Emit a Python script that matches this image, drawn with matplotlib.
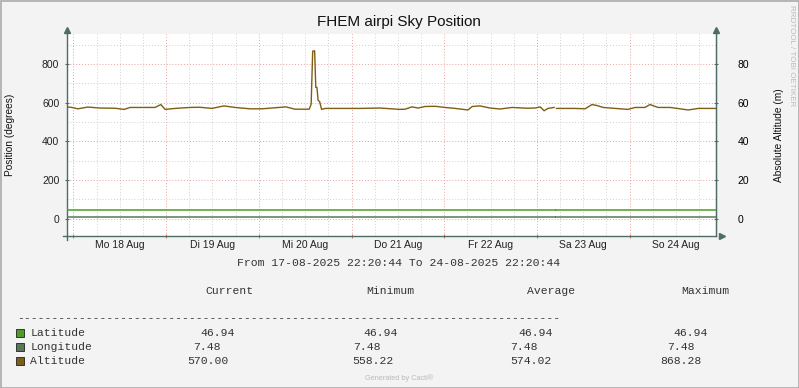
import numpy as np
import matplotlib
matplotlib.use("Agg")
import matplotlib.pyplot as plt
from matplotlib.patches import Rectangle

# --- data (hours since 17-08-2025 22:20:44) ---
alt_hours = [0, 1.3, 2.8, 5.4, 8.5, 12.4, 14.8, 16.3, 18.9, 22.8, 24.3, 25.4, 28, 31.8,
             34.4, 37.5, 40.6, 43.5, 47.4, 50.5, 56.7, 59, 61.6, 62.7, 63.2, 63.6, 64.1,
             64.4, 64.7, 65, 65.4, 65.9, 66.8, 70.7, 75.9, 81, 86.2, 87.5, 89.3, 90.9,
             92.7, 95.3, 97.9, 100.5, 103.8, 104.9, 106.9, 109.5, 112.1, 115.2, 119.1,
             121.2, 122.5, 123.5, 124.5, 126.1, 126.4, 126.7, 131.5, 134.1, 135.9, 137.2,
             138.8, 141.9, 145.2, 147.1, 149.6, 150.9, 153, 156.1, 158.7, 160.8, 163.4, 168]
alt_values = [578, 575, 568, 577, 572, 571, 565, 575, 575, 575, 590, 565, 570, 575,
              576, 570, 583, 575, 568, 568, 578, 566, 566, 566, 592, 866, 868,
              679, 679, 612, 605, 565, 570, 570, 570, 572, 565, 566, 578, 572,
              580, 581, 575, 570, 562, 580, 583, 572, 567, 575, 571,
              572, 578, 558, 570, 575, np.nan, 570, 570, 568, 590, 585,
              575, 570, 565, 575, 575, 590, 575, 575, 568, 562, 570, 570]
lat_hours = [0, 126.2, 126.4, 126.7, 168]
lat_values = [46.94, 46.94, np.nan, 46.94, 46.94]
lon_hours = [0, 126.2, 126.4, 126.7, 168]
lon_values = [7.48, 7.48, np.nan, 7.48, 7.48]

day_labels = ["Mo 18 Aug", "Di 19 Aug", "Mi 20 Aug", "Do 21 Aug",
              "Fr 22 Aug", "Sa 23 Aug", "So 24 Aug"]
first_midnight = 1 + 39 / 60 + 16 / 3600

legend_names = ["Latitude", "Longitude", "Altitude"]
legend_current = ["46.94", "7.48", "570.00"]
legend_minimum = ["46.94", "7.48", "558.22"]
legend_average = ["46.94", "7.48", "574.02"]
legend_maximum = ["46.94", "7.48", "868.28"]

c_lat = "#48A01E"
c_lon = "#557A55"
c_alt = "#7E5E12"
axis_col = "#4F6B66"
W, H = 799, 388

fig = plt.figure(figsize=(W / 100, H / 100), dpi=100, facecolor="#F3F3F3")
ax = fig.add_axes([67 / W, 1 - 236 / H, (716 - 67) / W, (236 - 34) / H])
ax.set_facecolor("white")
ax.set_xlim(0, 168)
ax.set_ylim(-90, 955)

# grid
for h in np.arange(first_midnight - 24, 169, 6):
    if h < 0:
        continue
    is_major = abs(((h - first_midnight) / 24) - round((h - first_midnight) / 24)) < 1e-6
    ax.axvline(h, color="#E8A0A0" if is_major else "#D0D0D0", lw=0.7,
               ls=(0, (1, 2)), zorder=0)
for v in range(-0, 951, 100):
    ax.axhline(v, color="#E8A0A0" if v % 200 == 0 else "#D0D0D0", lw=0.7,
               ls=(0, (1, 2)), zorder=0)

ax.plot(lat_hours, lat_values, color=c_lat, lw=1.1, zorder=3)
ax.plot(lon_hours, lon_values, color=c_lon, lw=1.1, zorder=3)
ax.plot(alt_hours, alt_values, color=c_alt, lw=1.0, zorder=4)

# axes look
ax.spines["top"].set_visible(False)
for s in ["left", "bottom", "right"]:
    ax.spines[s].set_color(axis_col)
    ax.spines[s].set_linewidth(1.0)
ax.set_yticks(range(0, 801, 200))
ax.set_yticklabels([str(v) for v in range(0, 801, 200)])
midnights = [first_midnight + 24 * i for i in range(7)]
ax.set_xticks(midnights)
ax.set_xticklabels([])
ax.set_xticks([m + 12 for m in midnights], minor=True)
ax.set_xticklabels(day_labels, minor=True)
ax.tick_params(axis="x", which="major", length=3, direction="inout", color="#E07070")
ax.tick_params(axis="x", which="minor", length=0, pad=3)
ax.tick_params(axis="both", which="both", labelsize=7.5, labelcolor="#222222")
ax.tick_params(axis="y", length=3, direction="inout", color=axis_col, pad=4)
for lab in ax.get_xticklabels(minor=True) + ax.get_yticklabels():
    lab.set_fontfamily("Liberation Sans")

ax2 = ax.twinx()
ax2.set_ylim(-9, 95.5)
ax2.set_yticks(range(0, 81, 20))
ax2.tick_params(axis="y", labelsize=7.5, length=3, direction="inout", color=axis_col, pad=14)
for lab in ax2.get_yticklabels():
    lab.set_fontfamily("Liberation Sans")
for s in ["top", "left", "bottom"]:
    ax2.spines[s].set_visible(False)
ax2.spines["right"].set_color(axis_col)

fig.text(10 / W, 1 - 135 / H, "Position (degrees)", rotation=90, ha="center", va="center",
         fontsize=7.3, family="Liberation Sans", color="#111111")
fig.text(779.5 / W, 1 - 135 / H, "Absolute Altitude (m)", rotation=90, ha="center", va="center",
         fontsize=7.3, family="Liberation Sans", color="#111111")

# arrows on the axes
ax.plot([0], [1.02], marker="^", ms=4, color=axis_col, transform=ax.transAxes, clip_on=False)
ax.plot([1], [1.02], marker="^", ms=4, color=axis_col, transform=ax.transAxes, clip_on=False)
ax.plot([1.009], [0], marker=">", ms=4, color=axis_col, transform=ax.transAxes, clip_on=False)
ax.plot([-0.006, 0], [0, 0], color=axis_col, lw=1, transform=ax.transAxes, clip_on=False)
ax.plot([0, 0], [0, -0.02], color=axis_col, lw=1, transform=ax.transAxes, clip_on=False)

# texts
fig.text(399 / W, 1 - 22 / H, "FHEM airpi Sky Position", ha="center", va="center",
         fontsize=11, family="Liberation Sans", color="#111111")
fig.text(791 / W, 1 - 5 / H, "RRDTOOL / TOBI OETIKER", rotation=270, ha="center", va="top",
         fontsize=5.8, family="Liberation Sans", color="#BBBBBB")
mono = "Liberation Mono"
fig.text(399 / W, 1 - 263 / H, "From 17-08-2025 22:20:44 To 24-08-2025 22:20:44",
         ha="center", va="center", fontsize=8.2, family=mono, color="#333333")

for x, t in [(205, "Current"), (366, "Minimum"), (527, "Average"), (681, "Maximum")]:
    fig.text(x / W, 1 - 291 / H, t, ha="left", va="center", fontsize=8.2, family=mono,
             color="#333333")
fig.text(17 / W, 1 - 318 / H, "-" * 79, ha="left", va="center", fontsize=8.2, family=mono,
         color="#333333")

rows_y = [332.7, 346.7, 360.7]
cols = [(legend_current, [200, 193, 187]), (legend_minimum, [363, 353, 352]),
        (legend_average, [518, 510, 510]), (legend_maximum, [673, 667, 660])]
for i, (name, col, y) in enumerate(zip(legend_names, [c_lat, c_lon, c_alt], rows_y)):
    fig.patches.append(Rectangle((15.5 / W, 1 - (y + 4) / H), 8 / W, 8 / H, transform=fig.transFigure,
                                 facecolor=col, edgecolor="#333333", lw=0.7))
    fig.text(30.5 / W, 1 - y / H, name, ha="left", va="center", fontsize=8.2, family=mono,
             color="#333333")
    for vals, xs in cols:
        fig.text(xs[i] / W, 1 - y / H, vals[i], ha="left", va="center", fontsize=8.2,
                 family=mono, color="#333333")

fig.text(399 / W, 1 - 378 / H, "Generated by Cacti®", ha="center", va="center",
         fontsize=5.3, family="Liberation Sans", color="#BBBBBB")

# frame around the image
fig.patches.append(Rectangle((0.5 / W, 0.5 / H), 1 - 1 / W, 1 - 1 / H, transform=fig.transFigure,
                             fill=False, edgecolor="#AAAAAA", lw=1.2))

fig.savefig("out.png", dpi=100, facecolor=fig.get_facecolor())
